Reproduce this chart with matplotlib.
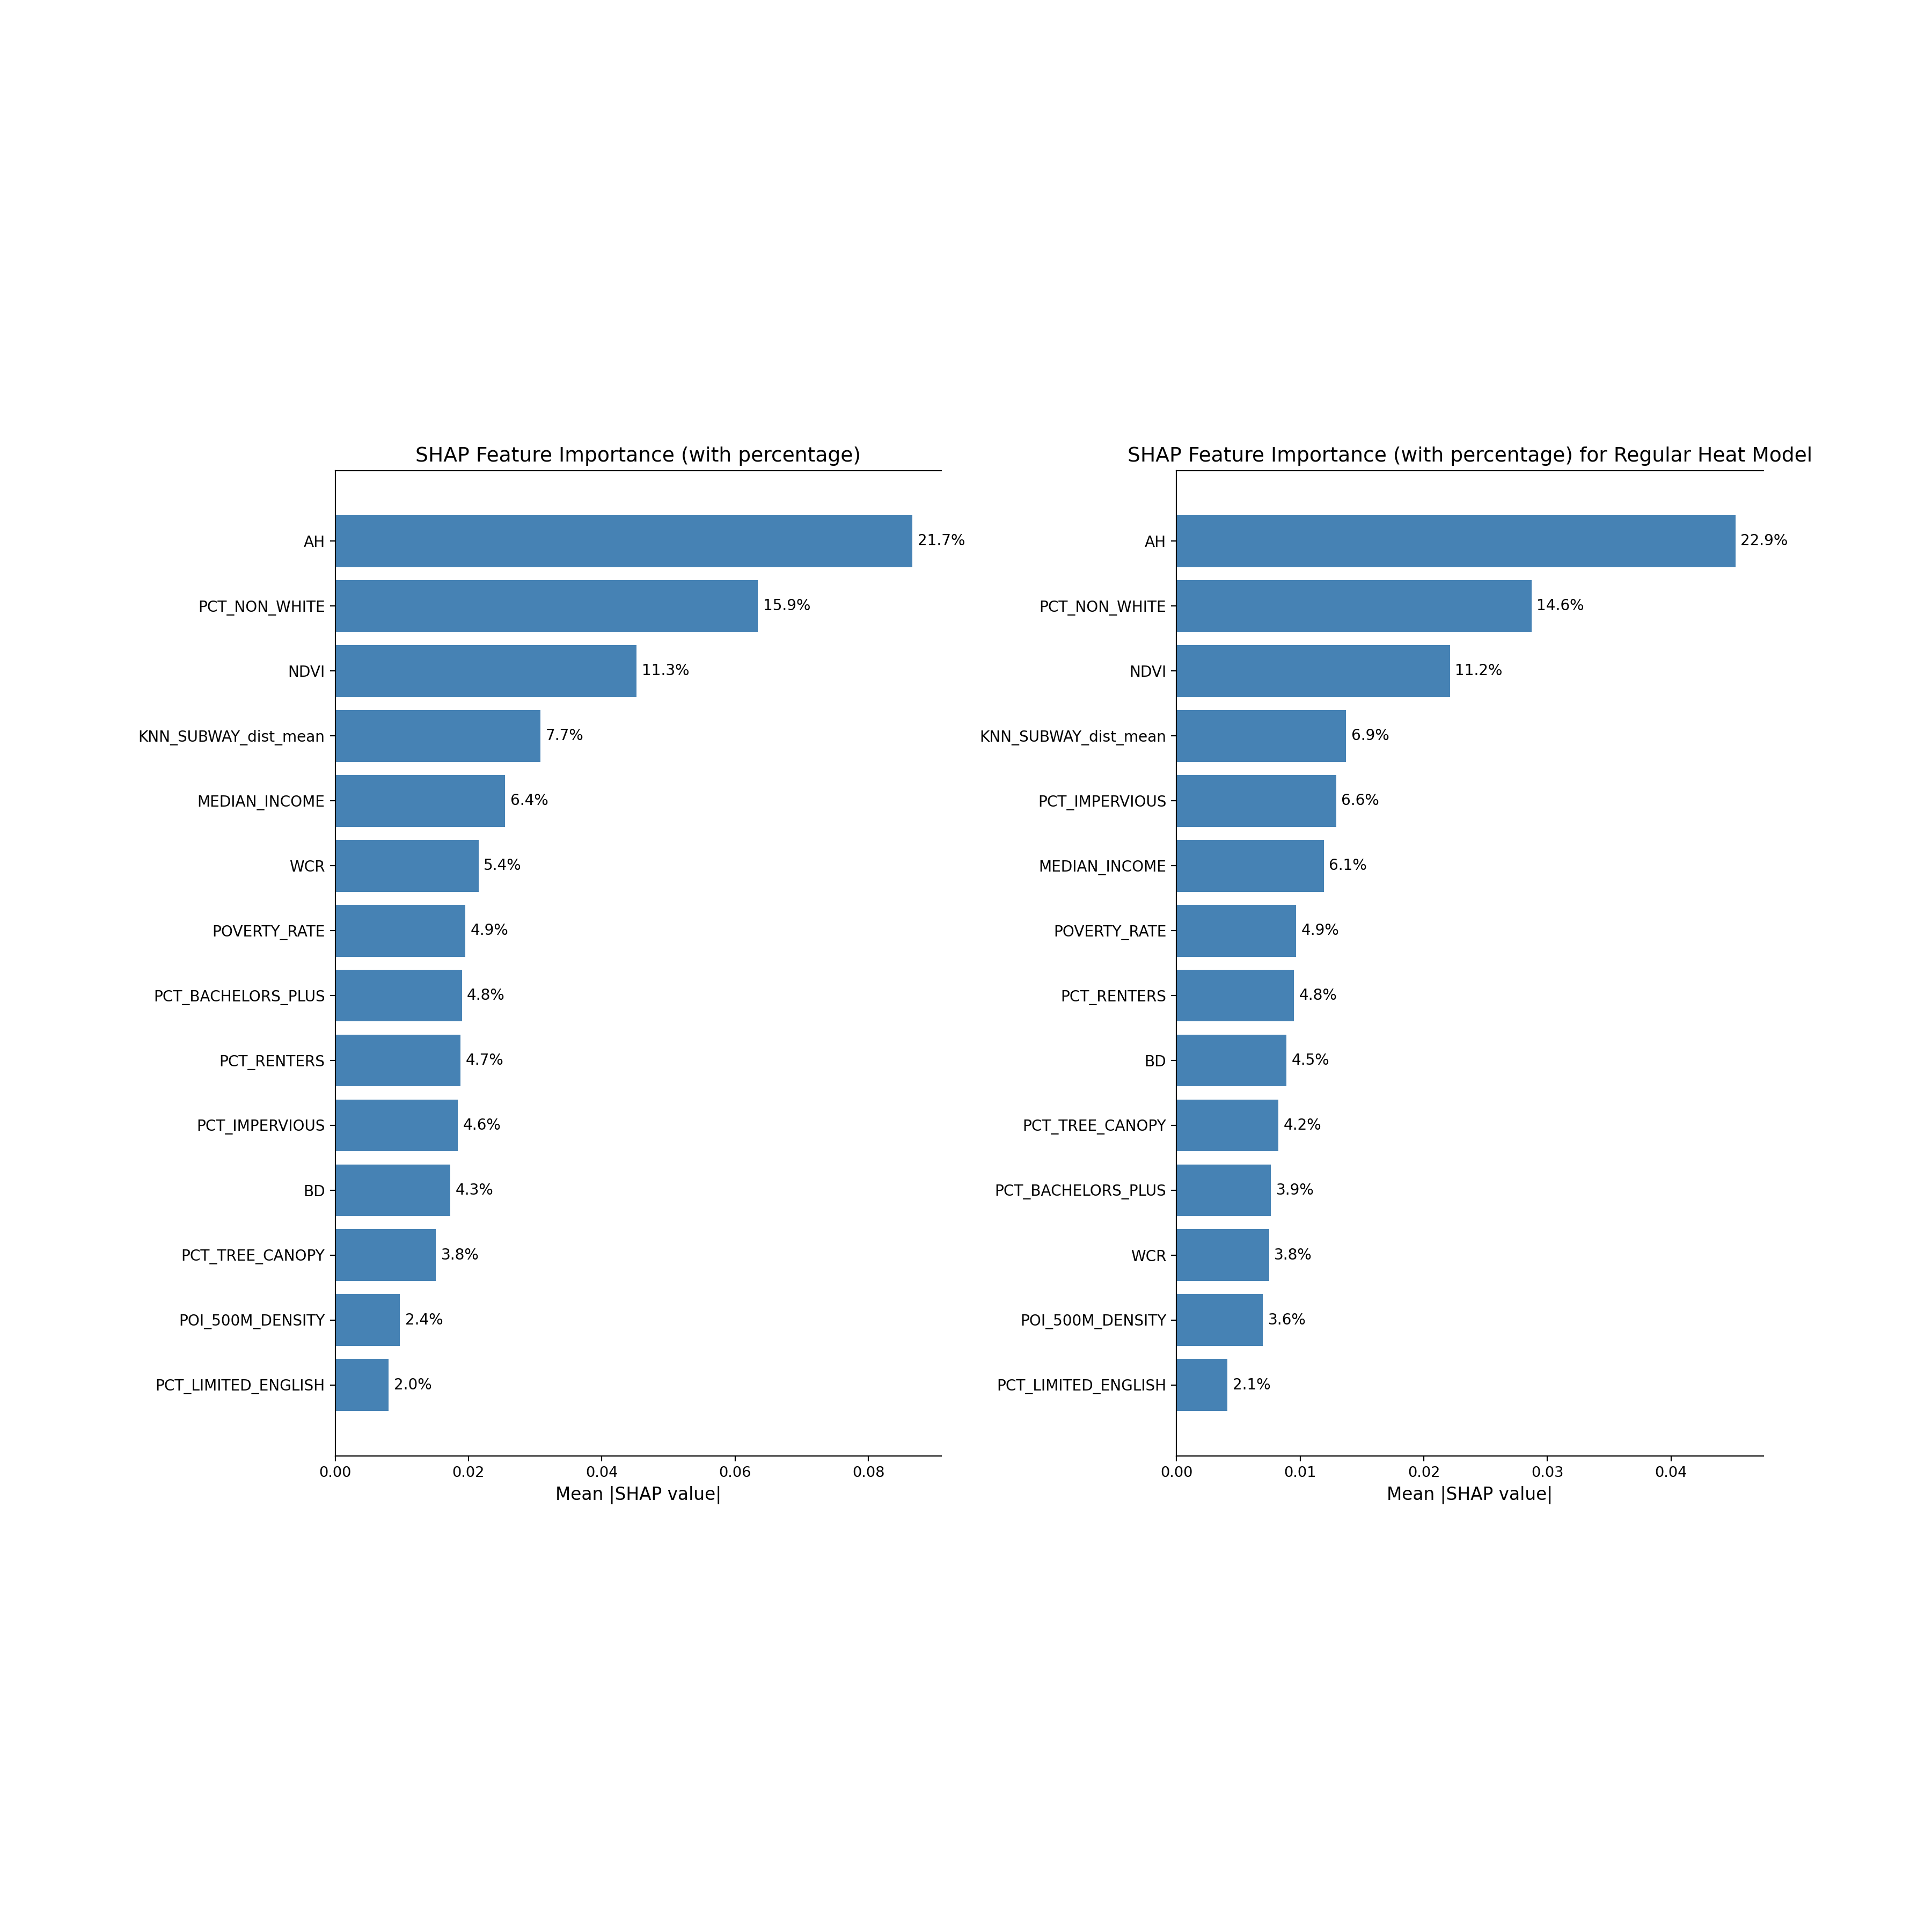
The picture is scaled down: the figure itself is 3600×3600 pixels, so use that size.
import matplotlib
matplotlib.use("Agg")
import matplotlib.pyplot as plt

# Left model: features and mean |SHAP| values (top to bottom)
left_features = ["AH", "PCT_NON_WHITE", "NDVI", "KNN_SUBWAY_dist_mean", "MEDIAN_INCOME",
                 "WCR", "POVERTY_RATE", "PCT_BACHELORS_PLUS", "PCT_RENTERS",
                 "PCT_IMPERVIOUS", "BD", "PCT_TREE_CANOPY", "POI_500M_DENSITY",
                 "PCT_LIMITED_ENGLISH"]
left_values = [0.0866, 0.0634, 0.0452, 0.0308, 0.0255, 0.0215, 0.0195, 0.0190,
               0.0188, 0.0184, 0.0173, 0.0151, 0.0097, 0.0080]
left_pct = ["21.7%", "15.9%", "11.3%", "7.7%", "6.4%", "5.4%", "4.9%", "4.8%",
            "4.7%", "4.6%", "4.3%", "3.8%", "2.4%", "2.0%"]

# Right model (Regular Heat Model)
right_features = ["AH", "PCT_NON_WHITE", "NDVI", "KNN_SUBWAY_dist_mean", "PCT_IMPERVIOUS",
                  "MEDIAN_INCOME", "POVERTY_RATE", "PCT_RENTERS", "BD",
                  "PCT_TREE_CANOPY", "PCT_BACHELORS_PLUS", "WCR", "POI_500M_DENSITY",
                  "PCT_LIMITED_ENGLISH"]
right_values = [0.0452, 0.0287, 0.0221, 0.0137, 0.0129, 0.0119, 0.00965, 0.00948,
                0.00887, 0.00822, 0.00762, 0.00748, 0.00698, 0.00412]
right_pct = ["22.9%", "14.6%", "11.2%", "6.9%", "6.6%", "6.1%", "4.9%", "4.8%",
             "4.5%", "4.2%", "3.9%", "3.8%", "3.6%", "2.1%"]

fig = plt.figure(figsize=(18.3, 18.3), dpi=3600 / 18.3)

ax1 = fig.add_axes([0.1735, 0.2465, 0.3137, 0.510])
ax2 = fig.add_axes([0.609, 0.2465, 0.3037, 0.510])


def draw(ax, features, values, pct, title):
    # reverse so the largest bar is on top
    bars = ax.barh(features[::-1], values[::-1], color="steelblue")
    ax.bar_label(bars, labels=pct[::-1], padding=3.5, fontsize=10.2)
    ax.set_title(title, fontsize=13.8)
    ax.set_xlabel("Mean |SHAP value|", fontsize=12)
    ax.tick_params(axis="y", labelsize=10.2)
    ax.spines["right"].set_visible(False)


draw(ax1, left_features, left_values, left_pct,
     "SHAP Feature Importance (with percentage)")
draw(ax2, right_features, right_values, right_pct,
     "SHAP Feature Importance (with percentage) for Regular Heat Model")

fig.savefig("out.png", dpi=3600 / 18.3)
